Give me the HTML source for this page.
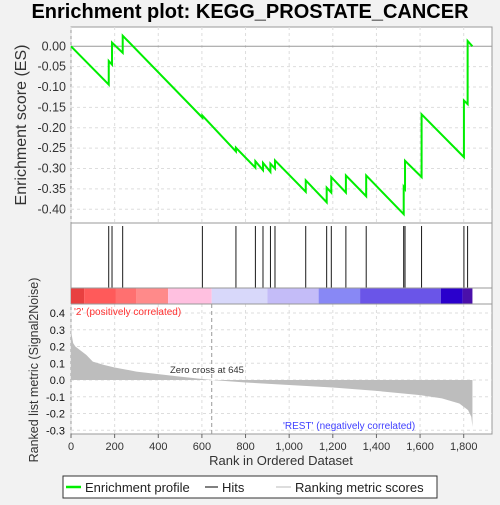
<!DOCTYPE html>
<html><head><meta charset="utf-8"><style>
body{margin:0;background:#f2f2f2;font-family:"Liberation Sans",sans-serif;}
svg text{font-family:"Liberation Sans",sans-serif;}
</style></head><body>
<svg id="c" width="500" height="500" xmlns="http://www.w3.org/2000/svg">
<rect x="0" y="0" width="500" height="500" fill="#f2f2f2"/>
<text x="250" y="18" text-anchor="middle" font-size="20" font-weight="bold" fill="#000">Enrichment plot: KEGG_PROSTATE_CANCER</text>
<rect x="71" y="27" width="421" height="407" fill="#fff" stroke="#999"/>
<g id="grid"></g>
<g id="marks"></g>
<g id="axes"></g>
<text transform="translate(26,125) rotate(-90)" text-anchor="middle" font-size="16" fill="#333">Enrichment score (ES)</text>
<text transform="translate(38,370) rotate(-90)" text-anchor="middle" font-size="12.5" fill="#333">Ranked list metric (Signal2Noise)</text>
<text x="281" y="465" text-anchor="middle" font-size="13" fill="#333">Rank in Ordered Dataset</text>
<text x="74" y="315" font-size="10" fill="#ff3030">'2' (positively correlated)</text>
<text x="283" y="429" font-size="10" fill="#4040ff">'REST' (negatively correlated)</text>
<text x="170" y="373" font-size="9.5" fill="#333">Zero cross at 645</text>
<g>
<rect x="63" y="476" width="374" height="22" fill="#fff" stroke="#333"/>
<line x1="66" y1="487" x2="81" y2="487" stroke="#00ee00" stroke-width="2.5"/>
<text x="85" y="492" font-size="13" fill="#222">Enrichment profile</text>
<line x1="205" y1="487" x2="218" y2="487" stroke="#000"/>
<text x="222" y="492" font-size="13" fill="#222">Hits</text>
<line x1="276" y1="487" x2="291" y2="487" stroke="#bbb"/>
<text x="295" y="492" font-size="13" fill="#222">Ranking metric scores</text>
</g>
</svg>
<script>
const hitRanks=[173,188,237,602,756,845,880,914,935,1076,1172,1193,1260,1353,1525,1531,1607,1801,1818];
const esBefore=[-0.094,-0.045,-0.016,-0.175,-0.258,-0.298,-0.304,-0.308,-0.300,-0.357,-0.383,-0.359,-0.359,-0.368,-0.412,-0.350,-0.321,-0.272,-0.142];
const esAfter=[-0.036,0.009,0.026,-0.170,-0.249,-0.282,-0.286,-0.288,-0.280,-0.329,-0.347,-0.321,-0.317,-0.317,-0.345,-0.281,-0.167,-0.133,0.013];
const metricRanks=[0,3,10,20,40,70,100,150,200,300,400,500,645,800,1000,1200,1400,1600,1700,1780,1820,1835,1840];
const metricValues=[0.33,0.27,0.22,0.20,0.18,0.15,0.11,0.09,0.075,0.05,0.035,0.02,0,-0.015,-0.03,-0.045,-0.065,-0.09,-0.11,-0.14,-0.18,-0.22,-0.28];
const xTicks=[0,200,400,600,800,1000,1200,1400,1600,1800];
const xTickLabels=["0","200","400","600","800","1,000","1,200","1,400","1,600","1,800"];
const esTicks=[0,-0.05,-0.1,-0.15,-0.2,-0.25,-0.3,-0.35,-0.4];
const esTickLabels=["0.00","-0.05","-0.10","-0.15","-0.20","-0.25","-0.30","-0.35","-0.40"];
const mTicks=[0.4,0.3,0.2,0.1,0,-0.1,-0.2,-0.3];
const mTickLabels=["0.4","0.3","0.2","0.1","0.0","-0.1","-0.2","-0.3"];
const nGenes=1840, zeroCross=645;
const bandStops=[0,60,206,298,445,645,900,1135,1325,1695,1795,1840];
const bandColors=["#e84040","#ff5a5a","#ff7070","#ff8a8a","#ffc0e0","#d8d8fa","#c4bcf8","#8888f5","#6a55e8","#2a00cc","#4a10aa"];

const NS="http://www.w3.org/2000/svg";
const X=r=>71+r*0.21817;
const YE=v=>46.3-v*407.5;
const YM=v=>380-v*167.5;
function mk(p,t,a){const e=document.createElementNS(NS,t);for(const k in a)e.setAttribute(k,a[k]);p.appendChild(e);return e;}
const grid=document.getElementById('grid'),marks=document.getElementById('marks'),axes=document.getElementById('axes');
const gs={stroke:"#ddd","stroke-dasharray":"3,3","stroke-width":1};
xTicks.forEach((t,i)=>{
  const l1=mk(grid,'line',Object.assign({x1:X(t),x2:X(t),y1:27,y2:223},gs));
  
  
  const l2=mk(grid,'line',Object.assign({x1:X(t),x2:X(t),y1:304,y2:434},gs));
  
  
  const tk=mk(axes,'line',{x1:X(t),x2:X(t),y1:434,y2:438,stroke:"#666"});
  
  
  const tx=mk(axes,'text',{x:X(t),y:450,"text-anchor":"middle","font-size":"11",fill:"#333"});
  tx.textContent=xTickLabels[i];
  
  
});
esTicks.forEach((t,i)=>{
  const l=mk(grid,'line',Object.assign({x1:71,x2:492,y1:YE(t),y2:YE(t)},t===0?{stroke:"#999"}:gs));
  
  
  const tx=mk(axes,'text',{x:66,y:YE(t)+4,"text-anchor":"end","font-size":"12.5",fill:"#333"});
  tx.textContent=esTickLabels[i];
  
  
});
mTicks.forEach((t,i)=>{
  const l=mk(grid,'line',Object.assign({x1:71,x2:492,y1:YM(t),y2:YM(t)},gs));
  
  
  const tx=mk(axes,'text',{x:65,y:YM(t)+4,"text-anchor":"end","font-size":"11",fill:"#111"});
  tx.textContent=mTickLabels[i];
  
  
});
[223,288,304].forEach(y=>{const l=mk(axes,'line',{x1:71,x2:492,y1:y,y2:y,stroke:"#999"});

});
for(let i=0;i<bandColors.length;i++){
  const r=mk(marks,'rect',{x:X(bandStops[i]),y:288,width:X(bandStops[i+1])-X(bandStops[i]),height:16,fill:bandColors[i]});
  
  
}
let d="M"+X(0)+","+YM(0);
metricRanks.forEach((r,i)=>{d+=" L"+X(r)+","+YM(metricValues[i]);});
d+=" L"+X(nGenes)+","+YM(0)+"Z";
const area=mk(marks,'path',{d:d,fill:"#bdbdbd",stroke:"none"});


const zc=mk(marks,'line',{x1:X(zeroCross),x2:X(zeroCross),y1:304,y2:434,stroke:"#999","stroke-dasharray":"4,3"});


hitRanks.forEach(r=>{
  const h=mk(marks,'line',{x1:X(r),x2:X(r),y1:226,y2:288,stroke:"#000","stroke-width":0.9});
  
  
});
let p=X(0)+","+YE(0);
hitRanks.forEach((r,i)=>{p+=" "+X(r)+","+YE(esBefore[i])+" "+X(r)+","+YE(esAfter[i]);});
p+=" "+X(nGenes)+","+YE(0);
const es=mk(marks,'polyline',{points:p,fill:"none",stroke:"#00ee00","stroke-width":2});


</script>
</body></html>
